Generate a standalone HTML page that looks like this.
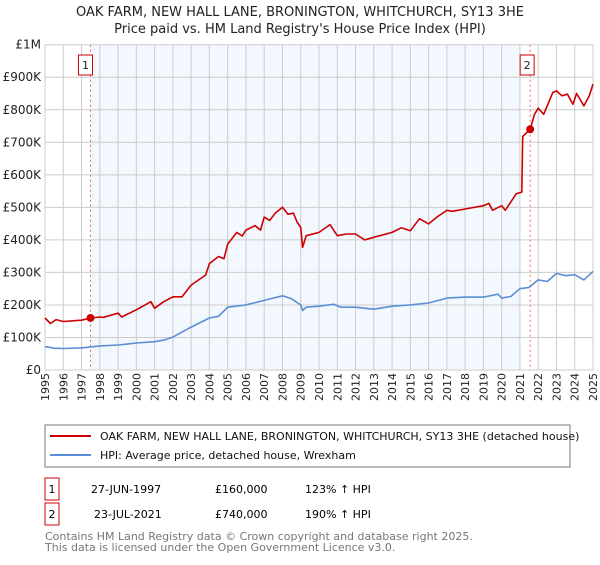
<!DOCTYPE html>
<html><head><meta charset="utf-8"><style>
body{margin:0;background:#fff;font-family:"Liberation Sans","DejaVu Sans",sans-serif;}
svg text{font-family:"DejaVu Sans","Liberation Sans",sans-serif;}
</style></head><body>
<svg width="600" height="560" xmlns="http://www.w3.org/2000/svg">
<text x="300" y="16" text-anchor="middle" font-size="13" fill="#222">OAK FARM, NEW HALL LANE, BRONINGTON, WHITCHURCH, SY13 3HE</text>
<text x="300" y="33" text-anchor="middle" font-size="13" fill="#222">Price paid vs. HM Land Registry's House Price Index (HPI)</text>
<g id="plot"></g>
<rect x="45" y="425" width="525" height="42" fill="#fff" stroke="#777"/>
<line x1="50" y1="436" x2="91" y2="436" stroke="#cc0000" stroke-width="2"/>
<text x="100" y="440" font-size="11" fill="#111">OAK FARM, NEW HALL LANE, BRONINGTON, WHITCHURCH, SY13 3HE (detached house)</text>
<line x1="50" y1="455" x2="91" y2="455" stroke="#5b8fd4" stroke-width="2"/>
<text x="100" y="459" font-size="11" fill="#111">HPI: Average price, detached house, Wrexham</text>
<rect x="45" y="478" width="14" height="22" fill="#fff" stroke="#cc0000"/>
<text x="52" y="493" font-size="11" text-anchor="middle">1</text>
<text x="91" y="493" font-size="11">27-JUN-1997</text>
<text x="215" y="493" font-size="11">£160,000</text>
<text x="305" y="493" font-size="11">123% ↑ HPI</text>
<rect x="45" y="503" width="14" height="22" fill="#fff" stroke="#cc0000"/>
<text x="52" y="518" font-size="11" text-anchor="middle">2</text>
<text x="94" y="518" font-size="11">23-JUL-2021</text>
<text x="215" y="518" font-size="11">£740,000</text>
<text x="305" y="518" font-size="11">190% ↑ HPI</text>
<text x="45" y="540" font-size="11" fill="#777">Contains HM Land Registry data © Crown copyright and database right 2025.</text>
<text x="45" y="551" font-size="11" fill="#777">This data is licensed under the Open Government Licence v3.0.</text>
</svg>
<script>
const years=[1995,1996,1997,1998,1999,2000,2001,2002,2003,2004,2005,2006,2007,2008,2009,2010,2011,2012,2013,2014,2015,2016,2017,2018,2019,2020,2021,2022,2023,2024,2025];
const yTicks=[0,100000,200000,300000,400000,500000,600000,700000,800000,900000,1000000];
const yTickLabels=["£0","£100K","£200K","£300K","£400K","£500K","£600K","£700K","£800K","£900K","£1M"];
const hpiT=[1995,1995.5,1996,1997,1998,1999,2000,2001,2001.5,2002,2003,2004,2004.5,2005,2006,2007,2008,2008.5,2009,2009.1,2009.3,2010,2010.8,2011.2,2012,2013,2014,2015,2016,2017,2018,2019,2019.8,2020,2020.5,2021,2021.5,2022,2022.5,2023,2023.5,2024,2024.5,2025];
const hpiV=[72,67,66,68,74,77,83,87,92,101,132,160,165,193,200,214,228,219,200,183,193,196,202,193,193,187,196,200,206,221,224,224,233,221,226,250,254,277,272,297,290,293,277,303];
const redT=[1995,1995.3,1995.6,1996,1997,1997.49,1998,1998.2,1999,1999.2,2000,2000.8,2001,2001.5,2002,2002.5,2003,2003.8,2004,2004.5,2004.8,2005,2005.5,2005.8,2006,2006.5,2006.8,2007,2007.3,2007.6,2008,2008.3,2008.6,2008.8,2009,2009.1,2009.3,2010,2010.6,2011,2011.5,2012,2012.5,2013,2014,2014.5,2015,2015.5,2016,2016.5,2017,2017.3,2018,2019,2019.3,2019.5,2020,2020.2,2020.8,2021.1,2021.15,2021.56,2021.8,2022,2022.3,2022.8,2023,2023.3,2023.6,2023.9,2024.1,2024.5,2024.8,2025];
const redV=[160,143,155,149,153,160,163,162,175,163,185,210,190,210,225,225,261,292,327,349,342,387,423,412,430,444,430,470,460,482,500,479,482,455,438,377,413,423,447,413,418,418,400,408,423,437,428,465,449,472,491,488,495,505,512,491,505,491,542,547,718,740,786,805,786,853,858,843,848,817,850,812,843,879];
const sales=[[1997.49,160000,"1"],[2021.56,740000,"2"]];
const X0=45,X1=593,Y0=370,Y1=44.7;
const xs=t=>X0+(t-1995)/30*(X1-X0);
const ys=v=>Y0-v/1e6*(Y0-Y1);
const NS="http://www.w3.org/2000/svg";
const g=document.getElementById('plot');
function mk(tag,at,par){const e=document.createElementNS(NS,tag);for(const k in at)e.setAttribute(k,at[k]);(par||g).appendChild(e);return e;}
let e=mk('rect',{x:xs(1997.49),y:Y1,width:xs(2021)-xs(1997.49),height:Y0-Y1,fill:'#eef3fd',opacity:0.7});


years.forEach(y=>{const l=mk('line',{x1:xs(y),x2:xs(y),y1:Y1,y2:Y0,stroke:'#cccccc','stroke-width':1});


const t=mk('text',{x:0,y:0,'font-size':11,fill:'#222','text-anchor':'end',transform:`translate(${xs(y)+4},373) rotate(-90)`});t.textContent=y;

});
yTicks.forEach((v,i)=>{const l=mk('line',{x1:X0,x2:X1,y1:ys(v),y2:ys(v),stroke:'#cccccc','stroke-width':1});


const t=mk('text',{x:41,y:ys(v)+4,'font-size':12,fill:'#222','text-anchor':'end'});t.textContent=yTickLabels[i];

});
sales.forEach(s=>{const l=mk('line',{x1:xs(s[0]),x2:xs(s[0]),y1:Y1,y2:Y0,stroke:'#e66','stroke-dasharray':'2,3','stroke-width':1});

});
function path(T,V,col,name){let d='';T.forEach((t,i)=>{d+=(i?'L':'M')+xs(t).toFixed(1)+','+ys(V[i]*1000).toFixed(1);});
const p=mk('path',{d:d,fill:'none',stroke:col,'stroke-width':1.6,'stroke-linejoin':'round'});

}
path(hpiT,hpiV,'#5b8fd4','hpi-line');
path(redT,redV,'#cc0000','property-price-line');
sales.forEach(s=>{const c=mk('circle',{cx:xs(s[0]),cy:ys(s[1]),r:4,fill:'#cc0000'});


const r=mk('rect',{x:xs(s[0])-12,y:55,width:14,height:20,fill:'#fff',stroke:'#cc0000'});
if(s[2]==="2"){r.setAttribute('x',xs(s[0])-10);}


const t=mk('text',{x:+r.getAttribute('x')+7,y:69,'font-size':11,'text-anchor':'middle',fill:'#222'});t.textContent=s[2];

});
</script>
</body></html>
